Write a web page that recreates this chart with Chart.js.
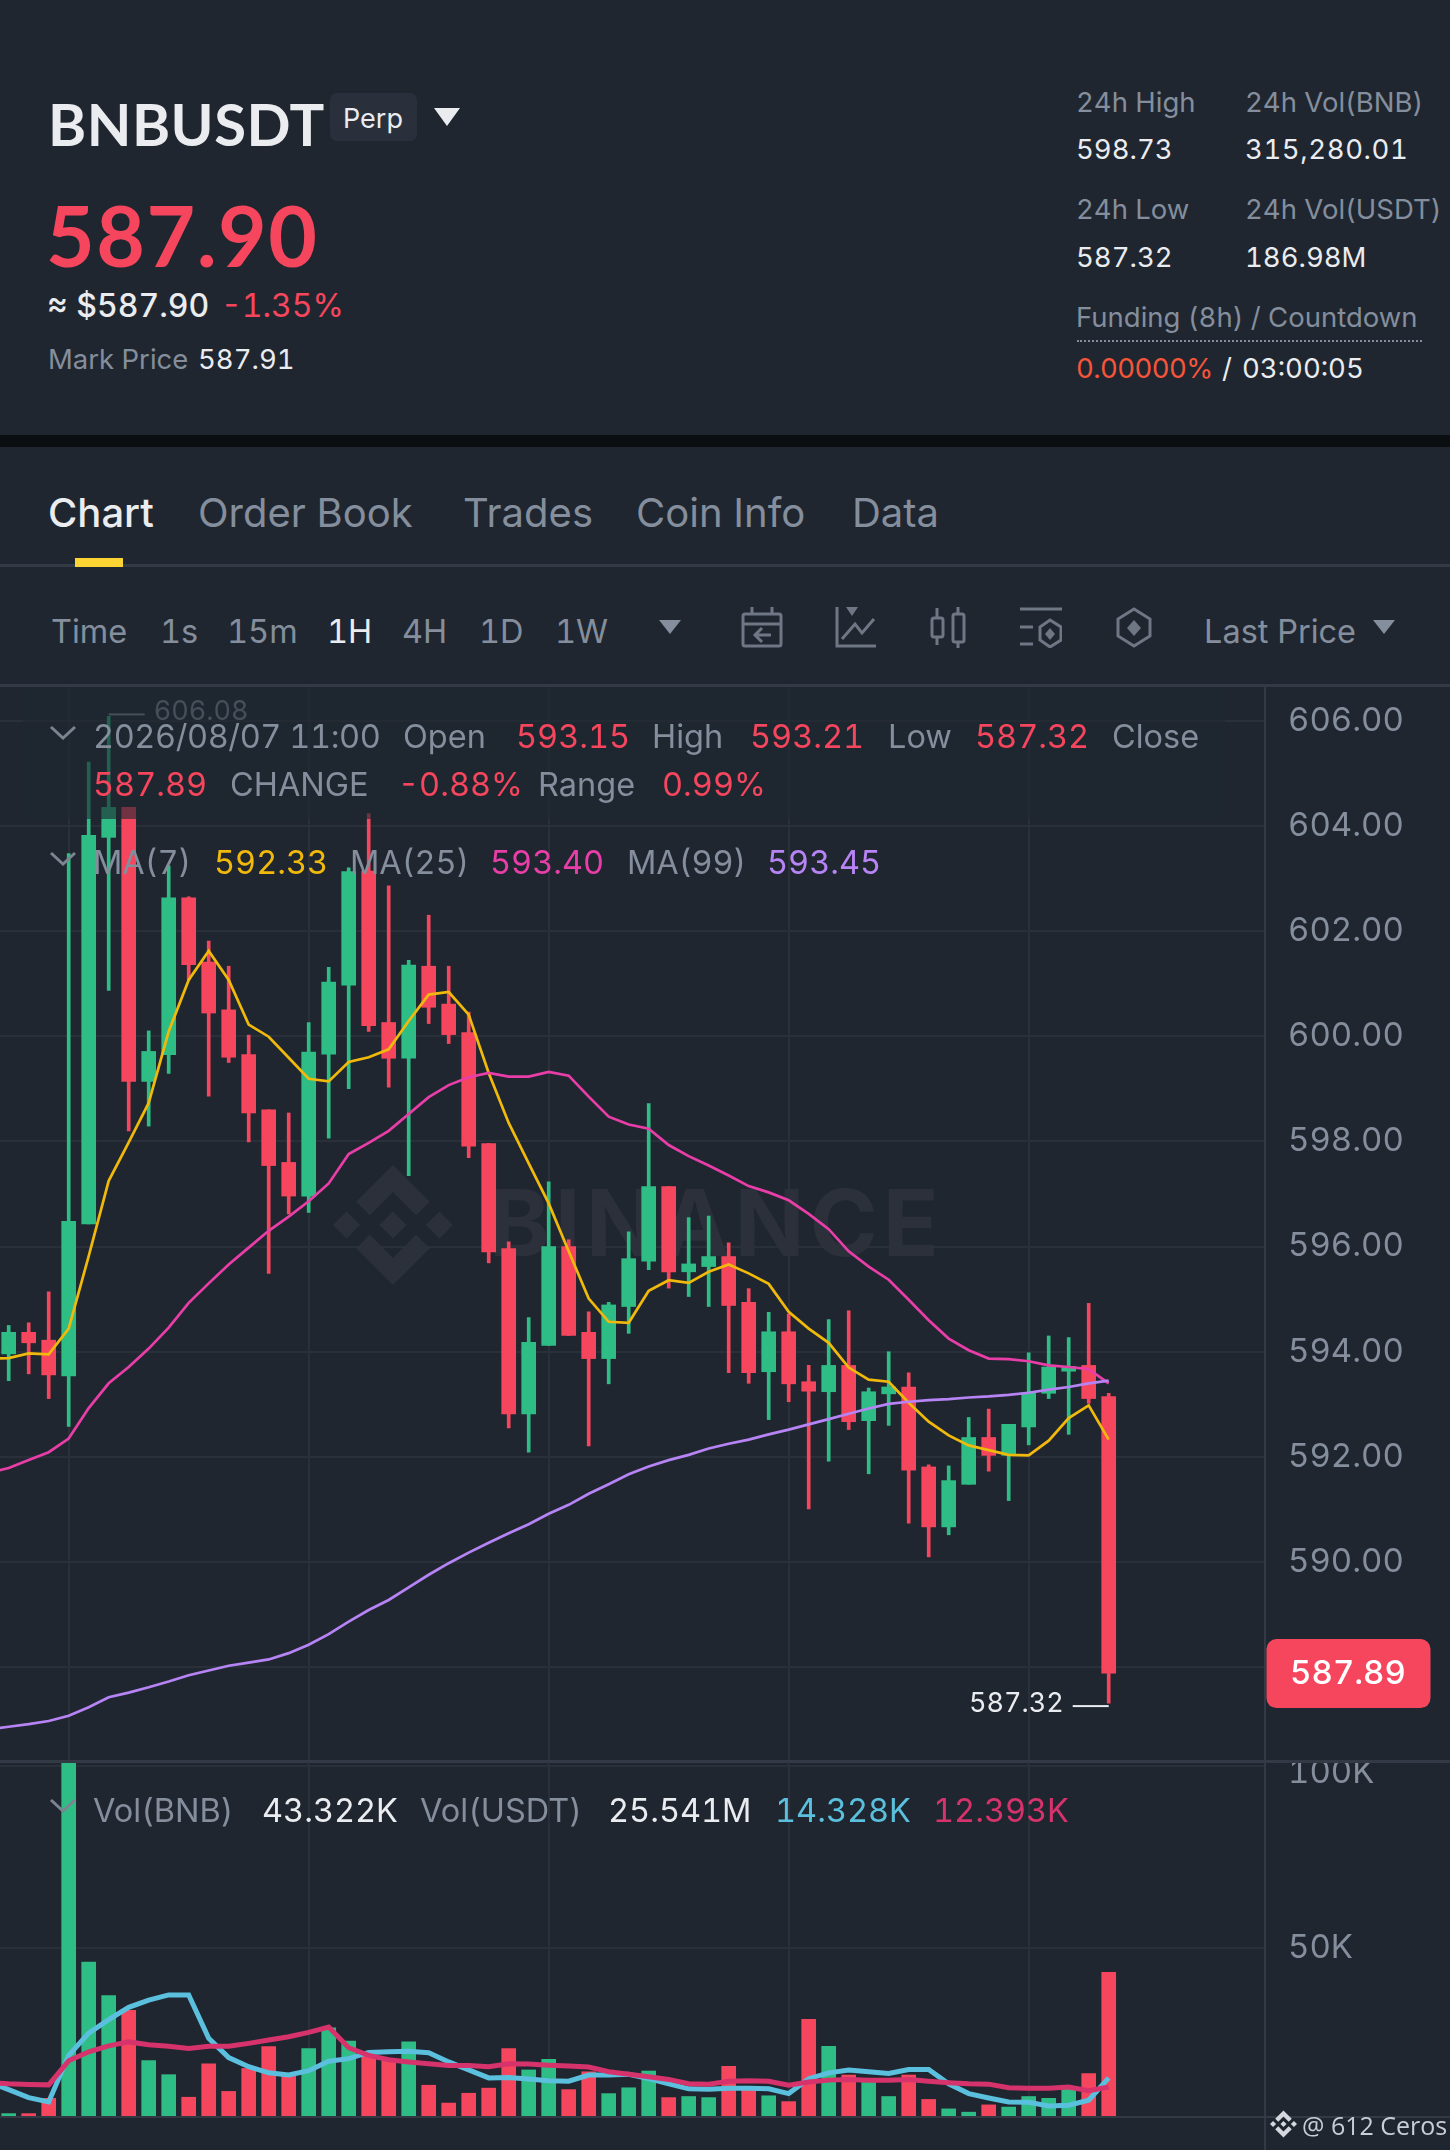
<!DOCTYPE html>
<html>
<head>
<meta charset="utf-8">
<title>BNBUSDT Perp</title>
<script src="https://cdn.jsdelivr.net/npm/chart.js@4"></script>
<style>
  html, body { margin: 0; background: #1f2630; }
  #page { position: relative; width: 1450px; height: 2150px; overflow: hidden; background: #1f2630;
          font-family: Inter, sans-serif; font-variant-numeric: tabular-nums; color: #848e9c; }
  #page canvas { position: absolute; left: 0; }
  .t { position: absolute; white-space: nowrap; transform: translateY(-50%); line-height: 1.2; }
  .w { color: #eaecef; }
  .r { color: #f6465d; }
  .s27 { font-size: 27.5px; }
  .s33 { font-size: 32.5px; }
  .s39 { font-size: 40px; }
  .line { position: absolute; background: #343a45; }
  .icon { position: absolute; fill: none; stroke: #6f7785; stroke-width: 3; }
  .caret { position: absolute; }
  #fade { position: absolute; left: 23px; top: 687px; width: 1202px; height: 132px; background: rgba(31,38,48,.62); }
</style>
</head>
<body>
<div id="page">
  <!-- header -->
  <span class="t w" style="left:48px;top:124px;font-family:Lato;font-size:58px;font-weight:700;letter-spacing:.5px">BNBUSDT</span>
  <div style="position:absolute;left:330px;top:93px;width:87px;height:48px;background:#2a303b;border-radius:7px"></div>
  <span class="t w" style="left:343px;top:119px;font-size:27px">Perp</span>
  <svg class="caret" style="left:434px;top:108px" width="26" height="18"><path d="M0 0H26L13 18Z" fill="#eaecef"/></svg>
  <span class="t r" style="left:46px;top:235px;font-family:Lato;font-size:84px;font-weight:700;letter-spacing:1.5px">587.90</span>
  <span class="t w" style="left:47px;top:306px;font-size:32px;font-weight:500">≈ $587.90</span>
  <span class="t r" style="left:221px;top:306px;font-size:32px">-1.35%</span>
  <span class="t s27" style="left:48px;top:359px">Mark Price</span>
  <span class="t w s27" style="left:198px;top:359px">587.91</span>

  <span class="t s27" style="left:1076px;top:102px">24h High</span>
  <span class="t s27" style="left:1245px;top:102px">24h Vol(BNB)</span>
  <span class="t w s27" style="left:1076px;top:149px">598.73</span>
  <span class="t w s27" style="left:1245px;top:149px;letter-spacing:.6px">315,280.01</span>
  <span class="t s27" style="left:1076px;top:209px">24h Low</span>
  <span class="t s27" style="left:1245px;top:209px">24h Vol(USDT)</span>
  <span class="t w s27" style="left:1076px;top:257px">587.32</span>
  <span class="t w s27" style="left:1245px;top:257px">186.98M</span>
  <span class="t s27" style="left:1076px;top:317px">Funding (8h) / Countdown</span>
  <div style="position:absolute;left:1077px;top:340px;width:345px;border-top:2px dotted #848e9c"></div>
  <span class="t s27" style="left:1076px;top:368px;color:#f6553a;letter-spacing:-.6px">0.00000%</span>
  <span class="t w s27" style="left:1222px;top:368px">/</span>
  <span class="t w s27" style="left:1242px;top:368px">03:00:05</span>

  <div style="position:absolute;left:0;top:435px;width:1450px;height:12px;background:#0b0e11"></div>

  <!-- tabs -->
  <span class="t w s39" style="left:48px;top:513px;font-weight:500">Chart</span>
  <span class="t s39" style="left:198px;top:513px">Order Book</span>
  <span class="t s39" style="left:463px;top:513px">Trades</span>
  <span class="t s39" style="left:636px;top:513px">Coin Info</span>
  <span class="t s39" style="left:852px;top:513px">Data</span>
  <div class="line" style="left:0;top:564px;width:1450px;height:3px"></div>
  <div style="position:absolute;left:75px;top:558px;width:48px;height:9px;background:#fcd535"></div>

  <!-- toolbar -->
  <span class="t s33" style="left:51px;top:631px">Time</span>
  <span class="t s33" style="left:160px;top:631px">1s</span>
  <span class="t s33" style="left:227px;top:631px">15m</span>
  <span class="t w s33" style="left:327px;top:631px">1H</span>
  <span class="t s33" style="left:402px;top:631px">4H</span>
  <span class="t s33" style="left:479px;top:631px">1D</span>
  <span class="t s33" style="left:555px;top:631px">1W</span>
  <svg class="caret" style="left:659px;top:620px" width="22" height="14"><path d="M0 0H22L11 14Z" fill="#848e9c"/></svg>
  <svg class="icon" style="left:741px;top:607px" width="42" height="41"><rect x="2" y="7" width="38" height="32" rx="2"/><path d="M2 17H40M11 0V7M31 0V7M30 28H14M21 21L14 28L21 35"/></svg>
  <svg class="icon" style="left:835px;top:607px" width="41" height="41"><path d="M2 0V39H41M7 32L20 17L27 26L39 12"/><path d="M11 0H23L17 9Z" fill="#6f7785" stroke="none"/></svg>
  <svg class="icon" style="left:930px;top:607px" width="36" height="41"><rect x="2" y="11" width="11" height="19" rx="2"/><rect x="23" y="7" width="11" height="28" rx="2"/><path d="M7 1V11M7 30V38M28 0V7M28 35V41"/></svg>
  <svg class="icon" style="left:1020px;top:607px" width="42" height="41"><path d="M0 2H42M0 20H13M0 37H13M30 13L41 20V33L30 40L20 33V20Z"/><path d="M30 21L35 27L30 33L25 27Z" fill="#6f7785" stroke="none"/></svg>
  <svg class="icon" style="left:1116px;top:607px" width="36" height="41"><path d="M18 2L34 12V29L18 39L2 29V12Z"/><path d="M18 13L25 21L18 29L11 21Z" fill="#6f7785" stroke="none"/></svg>
  <span class="t s33" style="left:1204px;top:631px">Last Price</span>
  <svg class="caret" style="left:1373px;top:620px" width="22" height="14"><path d="M0 0H22L11 14Z" fill="#848e9c"/></svg>

  <!-- charts -->
  <canvas id="priceChart" width="1450" height="1076" style="top:686px"></canvas>
  <canvas id="volChart" width="1450" height="354" style="top:1763px"></canvas>

  <div id="fade"></div>
  <div class="line" style="left:0;top:684px;width:1450px;height:3px"></div>
  <div class="line" style="left:0;top:1760px;width:1450px;height:3px"></div>
  <div class="line" style="left:0;top:2116px;width:1450px;height:2px"></div>
  <div class="line" style="left:1264px;top:686px;width:2px;height:1464px"></div>

  <!-- price legend -->
  <svg class="caret" style="left:49px;top:725px" width="28" height="15"><path d="M2 2L14 13L26 2" fill="none" stroke="#7c8491" stroke-width="3"/></svg>
  <span class="t s33" style="left:93px;top:736px;letter-spacing:-.4px">2026/08/07 11:00</span>
  <span class="t s33" style="left:403px;top:736px">Open</span>
  <span class="t r s33" style="left:516px;top:736px">593.15</span>
  <span class="t s33" style="left:652px;top:736px">High</span>
  <span class="t r s33" style="left:750px;top:736px">593.21</span>
  <span class="t s33" style="left:888px;top:736px">Low</span>
  <span class="t r s33" style="left:975px;top:736px">587.32</span>
  <span class="t s33" style="left:1112px;top:736px">Close</span>
  <span class="t r s33" style="left:93px;top:784px">587.89</span>
  <span class="t s33" style="left:230px;top:784px">CHANGE</span>
  <span class="t r s33" style="left:398px;top:784px">-0.88%</span>
  <span class="t s33" style="left:538px;top:784px">Range</span>
  <span class="t r s33" style="left:662px;top:784px">0.99%</span>
  <svg class="caret" style="left:49px;top:851px" width="28" height="15"><path d="M2 2L14 13L26 2" fill="none" stroke="#7c8491" stroke-width="3"/></svg>
  <span class="t s33" style="left:93px;top:862px">MA(7)</span>
  <span class="t s33" style="left:214px;top:862px;color:#f0b90b">592.33</span>
  <span class="t s33" style="left:350px;top:862px">MA(25)</span>
  <span class="t s33" style="left:490px;top:862px;color:#e93ea8">593.40</span>
  <span class="t s33" style="left:627px;top:862px">MA(99)</span>
  <span class="t s33" style="left:767px;top:862px;color:#b784f5">593.45</span>

  <!-- volume legend -->
  <svg class="caret" style="left:49px;top:1798px" width="28" height="15"><path d="M2 2L14 13L26 2" fill="none" stroke="#7c8491" stroke-width="3"/></svg>
  <span class="t s33" style="left:93px;top:1810px">Vol(BNB)</span>
  <span class="t w s33" style="left:262px;top:1810px">43.322K</span>
  <span class="t s33" style="left:420px;top:1810px">Vol(USDT)</span>
  <span class="t w s33" style="left:608px;top:1810px">25.541M</span>
  <span class="t s33" style="left:775px;top:1810px;color:#5bc0de">14.328K</span>
  <span class="t s33" style="left:933px;top:1810px;color:#d6336c">12.393K</span>

  <!-- watermark corner -->
  <svg style="position:absolute;left:1270px;top:2110px" width="27" height="28" viewBox="0 0 24 24"><path id="logoPath" fill="#d5d9df" d="M16.624 13.92l2.717 2.716-7.353 7.353-7.353-7.352 2.717-2.717 4.636 4.66 4.636-4.66zm4.637-4.636L24 12l-2.715 2.716L18.568 12l2.693-2.716zm-9.272 0l2.716 2.692-2.717 2.717L9.272 12l2.716-2.692v-.024zm-9.273 0L5.41 12l-2.692 2.692L0 12l2.716-2.716zM11.99.01l7.352 7.33-2.717 2.715-4.636-4.636-4.636 4.66-2.717-2.716L11.989.011z"/></svg>
  <span class="t" style="left:1302px;top:2125px;font-family:'Open Sans',sans-serif;font-size:25px;color:#c9ced6">@ 612 Ceros</span>
</div>

<script>
// candles, oldest first (one per hour, last one is 2026/08/07 11:00)
const opens = [593.96,594.37,594.22,593.54,596.43,603.78,604.35,599.14,599.65,602.63,601.41,600.5,599.65,598.6,597.6,596.96,599.66,600.97,603.14,600.26,599.58,601.33,600.61,600.07,597.96,595.96,592.82,594.12,596.0,594.37,593.87,594.86,595.72,597.14,595.52,595.62,595.81,594.94,593.62,594.38,593.43,593.24,593.74,592.69,593.2,593.33,591.81,590.67,591.48,592.37,592.03,592.57,593.21,593.63,593.74,593.15];
const closes = [594.37,594.17,593.56,596.48,603.82,604.35,599.14,599.71,602.63,601.36,600.44,599.6,598.54,597.54,596.96,599.7,601.03,603.13,600.2,599.58,601.35,600.55,600.03,597.91,595.9,592.82,594.18,596.0,594.31,593.87,594.89,595.77,597.14,595.52,595.67,595.81,594.88,593.6,594.38,593.39,593.25,593.74,592.67,593.24,593.33,591.75,590.67,591.55,592.37,592.03,592.62,593.22,593.71,593.72,593.11,587.89];
const highs = [594.5,594.55,595.14,603.47,605.21,606.08,604.35,600.1,603.24,602.65,601.81,601.33,600.02,598.6,598.54,600.26,601.31,603.2,604.23,602.86,601.44,602.3,601.33,600.46,597.96,596.09,594.65,597.23,596.13,594.76,594.94,596.28,598.72,597.14,596.55,596.58,596.07,595.2,594.75,594.72,593.74,594.61,594.78,593.31,594.0,593.6,591.85,591.83,592.75,592.91,592.62,593.98,594.3,594.27,594.92,593.21];
const lows = [593.45,593.58,593.11,592.58,596.43,600.87,598.2,598.29,599.29,601.07,598.86,599.5,597.99,595.49,596.62,596.65,598.06,599.0,600.09,599.03,597.35,600.24,599.86,597.69,595.69,592.55,592.09,594.12,594.31,592.21,593.39,594.35,595.56,595.21,595.05,594.86,593.6,593.4,592.71,593.05,591.01,591.92,592.52,591.68,592.6,590.74,590.1,590.52,591.48,591.73,591.17,592.23,593.11,592.43,593.02,587.32];
const volumes = [4.5,4.5,8.7,102,46.1,36.9,32.9,19.1,15.2,9.0,18.2,10.6,16.9,22.9,15.1,22.4,28.1,24.4,20.5,19.1,24.2,12.3,7.4,10.1,11.5,22.4,16.5,19.4,11.1,16.0,10.0,11.6,16.2,8.9,9.2,8.9,17.5,11.0,9.4,7.8,30.4,23.0,15.1,14.1,9.2,15.1,8.4,5.8,4.9,6.9,6.3,9.2,8.7,11.4,15.5,43.3];

// moving averages start one candle earlier, left of the visible plot
const ma7 = [593.87,593.88,593.97,593.95,594.44,595.82,597.25,597.98,598.73,600.09,601.07,601.62,601.07,600.22,599.99,599.59,599.19,599.14,599.51,599.6,599.75,600.29,600.79,600.84,600.41,599.3,598.35,597.58,596.82,595.91,595.01,594.57,594.55,595.16,595.36,595.31,595.52,595.66,595.49,595.29,594.76,594.44,594.17,593.7,593.47,593.43,593.03,592.67,592.41,592.22,592.13,592.04,592.03,592.31,592.74,592.98,592.33];
const ma25 = [591.7,591.79,591.94,592.09,592.35,592.93,593.4,593.71,594.06,594.46,594.93,595.3,595.66,595.98,596.3,596.57,596.86,597.2,597.76,597.97,598.2,598.52,598.84,599.07,599.22,599.3,599.23,599.23,599.32,599.25,598.85,598.47,598.32,598.24,597.93,597.72,597.54,597.35,597.15,597.03,596.88,596.62,596.33,595.91,595.62,595.37,594.99,594.6,594.25,594.03,593.87,593.86,593.82,593.74,593.71,593.67,593.4];
const ma99 = [586.82,586.87,586.92,586.98,587.08,587.24,587.43,587.52,587.62,587.73,587.85,587.94,588.03,588.09,588.15,588.27,588.43,588.63,588.87,589.09,589.28,589.52,589.76,589.98,590.18,590.37,590.55,590.72,590.92,591.09,591.3,591.48,591.67,591.82,591.94,592.04,592.16,592.25,592.33,592.43,592.52,592.62,592.72,592.82,592.92,593.01,593.05,593.08,593.1,593.13,593.15,593.18,593.22,593.28,593.33,593.4,593.45];
const volMaBlue = [13.2,11.1,8.9,7.7,20.5,26.6,30.3,33.7,35.7,37.1,37.1,25.2,19.9,17.4,15.7,15.1,16.3,18.9,19.6,21.3,21.5,21.6,21.2,18.7,16.5,14.3,14.4,14.0,13.5,13.4,15.1,15.1,15.3,14.1,12.7,11.3,11.2,11.5,11.5,11.3,10.0,14.1,15.7,16.5,16.0,15.5,16.6,16.6,12.7,10.0,8.8,7.7,7.6,6.6,6.8,8.2,14.3];
const volMaRed = [13.1,12.7,12.5,12.4,19.0,21.5,23.1,24.2,23.4,23.0,22.4,23.0,23.0,23.8,24.7,25.6,26.8,28.3,22.6,20.5,19.3,18.7,18.2,17.7,17.7,17.4,18.2,18.1,17.8,17.6,17.3,16.0,15.3,14.6,13.9,12.7,12.6,13.4,13.5,13.4,12.3,13.2,13.7,13.9,13.7,13.7,13.9,13.4,13.0,12.7,12.6,11.6,11.5,11.5,11.8,10.8,11.8];

// axis ticks
const priceTicks = [606,604,602,600,598,596,594,592,590,588];
const volTicks = [100,50];
const timeGrid = [0,12,24,36,48];
const highMark = 606.08;
const lowMark = 587.32;
const lastPrice = 587.89;

const GREEN = '#2ebd85';
const RED = '#f6465d';
const GRID = '#2a303a';
const AXIS_TEXT = '#848e9c';

// candle 0 sits at -3 so the vertical grid falls on multiples of 12
const candleX = i => i - 3;
const candleColors = closes.map((c, i) => c >= opens[i] ? GREEN : RED);

function lineSet(values, color, width) {
  return {
    type: 'line',
    data: values.map((y, i) => ({ x: i - 4, y: y })),
    borderColor: color,
    borderWidth: width,
    pointRadius: 0,
    tension: 0
  };
}

function xAxis() {
  return {
    type: 'linear',
    min: -3.435,
    max: 59.815,
    offset: false,
    afterBuildTicks: scale => { scale.ticks = timeGrid.map(v => ({ value: v })); },
    ticks: { display: false },
    border: { display: false },
    grid: { color: GRID, lineWidth: 2, drawTicks: false, offset: false }
  };
}

function yAxis(min, max, tickValues, labelFn) {
  return {
    position: 'right',
    min: min,
    max: max,
    afterBuildTicks: scale => { scale.ticks = tickValues.map(v => ({ value: v })); },
    // keep the plot full height, labels must not shrink it
    afterFit: scale => { scale.width = 185; scale.paddingTop = 0; scale.paddingBottom = 0; },
    ticks: { color: AXIS_TEXT, font: { family: 'Inter', size: 33 }, padding: 23, autoSkip: false, callback: labelFn },
    border: { display: false },
    grid: { color: GRID, lineWidth: 2, drawTicks: false }
  };
}

// BINANCE watermark behind the candles
const watermark = {
  id: 'watermark',
  beforeDatasetsDraw(chart) {
    const ctx = chart.ctx;
    ctx.save();
    ctx.fillStyle = '#2c303b';
    ctx.font = '700 92px Inter';
    ctx.letterSpacing = '5px';
    ctx.textBaseline = 'alphabetic';
    ctx.fillText('BINANCE', 489, 570);
    ctx.letterSpacing = '0px';
    ctx.translate(333, 479);
    ctx.scale(5, 5);
    ctx.fill(new Path2D(document.getElementById('logoPath').getAttribute('d')));
    ctx.restore();
  }
};

// high / low markers and the last price tag
const priceMarks = {
  id: 'priceMarks',
  afterDraw(chart) {
    const ctx = chart.ctx;
    const y = chart.scales.y;
    const x = chart.scales.x;
    ctx.save();
    ctx.textBaseline = 'middle';
    ctx.font = '27px Inter';

    const hy = y.getPixelForValue(highMark) - 2;
    const hx = x.getPixelForValue(candleX(5));
    ctx.fillStyle = AXIS_TEXT;
    ctx.fillRect(hx, hy - 1, 36, 2);
    ctx.fillText(highMark.toFixed(2), hx + 45, hy - 3);

    const ly = y.getPixelForValue(lowMark) + 3;
    const lx = x.getPixelForValue(candleX(55));
    ctx.fillStyle = '#eaecef';
    ctx.fillRect(lx - 36, ly - 1, 36, 2);
    ctx.textAlign = 'right';
    ctx.fillText(lowMark.toFixed(2), lx - 45, ly - 2);

    const ty = y.getPixelForValue(lastPrice);
    ctx.fillStyle = RED;
    ctx.beginPath();
    ctx.roundRect(1266.5, ty - 34, 164, 69, 10);
    ctx.fill();
    ctx.fillStyle = '#ffffff';
    ctx.textAlign = 'center';
    ctx.font = '500 33px Inter';
    ctx.fillText(lastPrice.toFixed(2), 1348, ty + 1);
    ctx.restore();
  }
};

new Chart(document.getElementById('priceChart'), {
  type: 'bar',
  data: {
    datasets: [
      lineSet(ma99, '#b784f5', 2.7),
      lineSet(ma25, '#e93ea8', 2.7),
      lineSet(ma7, '#f0b90b', 2.7),
      {
        data: opens.map((o, i) => ({ x: candleX(i), y: [o, closes[i]] })),
        backgroundColor: candleColors,
        barThickness: 14
      },
      {
        data: lows.map((l, i) => ({ x: candleX(i), y: [l, highs[i]] })),
        backgroundColor: candleColors,
        barThickness: 3
      }
    ]
  },
  options: {
    responsive: false,
    animation: false,
    datasets: { bar: { grouped: false } },
    layout: { padding: 0 },
    plugins: { legend: { display: false }, tooltip: { enabled: false } },
    scales: {
      x: xAxis(),
      y: yAxis(586.2, 606.658, priceTicks, v => v.toFixed(2))
    }
  },
  plugins: [watermark, priceMarks]
});

// the 100K label is pushed down inside the panel
const volTopLabel = {
  id: 'volTopLabel',
  afterDraw(chart) {
    const ctx = chart.ctx;
    ctx.save();
    ctx.font = '33px Inter';
    ctx.fillStyle = AXIS_TEXT;
    ctx.textBaseline = 'middle';
    ctx.fillText(volTicks[0] + 'K', 1288, chart.scales.y.getPixelForValue(volTicks[0]) + 7);
    ctx.restore();
  }
};

new Chart(document.getElementById('volChart'), {
  type: 'bar',
  data: {
    datasets: [
      lineSet(volMaRed, '#d6336c', 5),
      lineSet(volMaBlue, '#5bc0de', 5),
      {
        data: volumes.map((v, i) => ({ x: candleX(i), y: v })),
        backgroundColor: candleColors,
        barThickness: 14
      }
    ]
  },
  options: {
    responsive: false,
    animation: false,
    datasets: { bar: { grouped: false } },
    layout: { padding: 0 },
    plugins: { legend: { display: false }, tooltip: { enabled: false } },
    scales: {
      x: xAxis(),
      y: yAxis(3.57, 100.82, volTicks, v => v === 100 ? '' : v + 'K')
    }
  },
  plugins: [volTopLabel]
});
</script>
</body>
</html>
